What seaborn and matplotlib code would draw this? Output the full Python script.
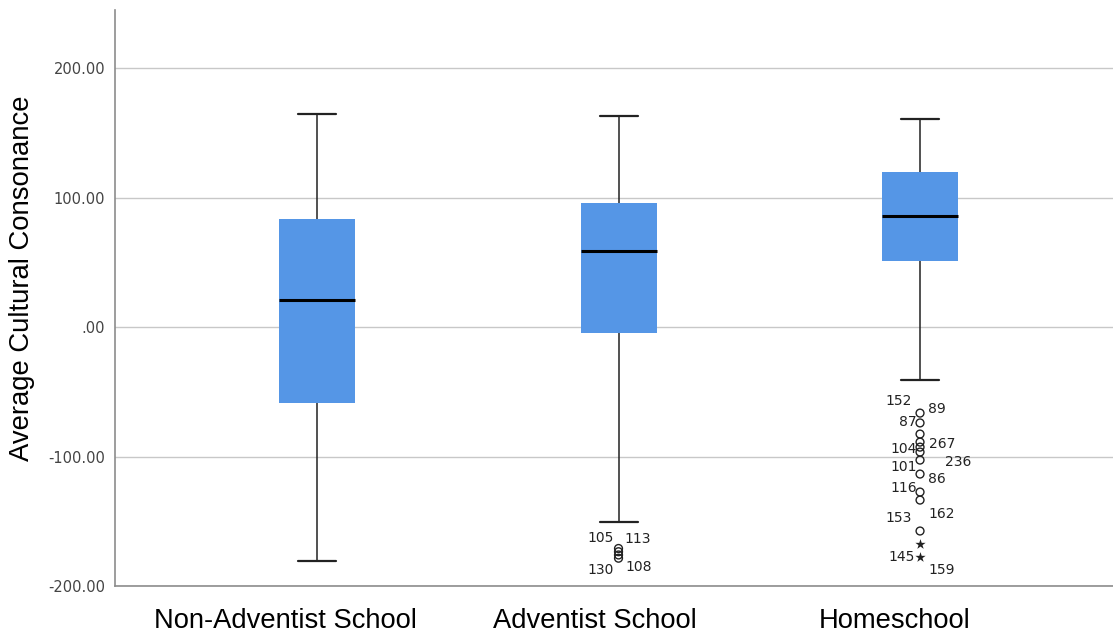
import numpy as np
import pandas as pd
import matplotlib
matplotlib.use('Agg')
import matplotlib.pyplot as plt
import matplotlib.transforms as mtransforms
import seaborn as sns

# Box summary values
groups = ['Non-Adventist School', 'Adventist School', 'Homeschool']
whisker_low = [-180.7, -150.6, -40.9]
q1 = [-58.7, -4.6, 51.0]
median = [20.8, 58.7, 85.7]
q3 = [83.4, 95.8, 119.7]
whisker_high = [164.5, 163.0, 160.6]

# Outliers (case ids as printed on the chart)
adv_out = [-171.0, -173.5, -176.0, -178.5]
adv_ids = ['105', '113', '130', '108']
home_out = [-66.4, -74.0, -82.6, -88.8, -92.7, -96.5, -102.7, -113.5, -127.4, -133.6, -157.5]
home_extreme = [-167.6, -177.6]
home_ids = ['152', '89', '87', '104', '267', '236', '101', '86', '116', '153', '162', '145', '159']

yticks = [-200, -100, 0, 100, 200]
ytick_labels = ['-200.00', '-100.00', '.00', '100.00', '200.00']

# label layout (y in data units, x offset in pixels)
adv_lab_y = [-163.0, -163.5, -188.0, -185.0]
adv_lab_dx = [-5, 6, -5, 7]
home_lab_y = [-57.1, -63.3, -73.4, -94.2, -90.3, -104.2, -108.1, -117.4, -124.3, -147.5, -144.4, -177.6, -187.6]
home_lab_dx = [-8, 8, -3, -3, 9, 25, -3, 8, -3, -8, 8, -5, 8]
xlabel_shift_px = [-32, -24, -25]

BLUE = '#5596e6'

# 5-number frame per group so that whis=(0, 100) reproduces the box
rows = []
for g, a, b, c, d, e in zip(groups, whisker_low, q1, median, q3, whisker_high):
    for v in (a, b, c, d, e):
        rows.append({'group': g, 'value': v})
df = pd.DataFrame(rows)

sns.set_style('white')
plt.rcParams['font.family'] = ['Liberation Sans', 'DejaVu Sans']

fig = plt.figure(figsize=(11.13, 6.33), dpi=100)
ax = fig.add_axes([0.1033, 0.0742, 0.8967, 0.9100])

sns.boxplot(data=df, x='group', y='value', order=groups, whis=(0, 100),
            width=0.252, color=BLUE, saturation=1, showfliers=False,
            linecolor='black', ax=ax,
            boxprops=dict(edgecolor=BLUE, linewidth=0),
            medianprops=dict(color='black', linewidth=2.2),
            whiskerprops=dict(color='#222222', linewidth=1.1),
            capprops=dict(color='#222222', linewidth=1.6))

# outliers
ax.scatter([1] * len(adv_out), adv_out, s=32, facecolors='none', edgecolors='#222222', linewidths=1, zorder=5)
ax.scatter([2] * len(home_out), home_out, s=32, facecolors='none', edgecolors='#222222', linewidths=1, zorder=5)
ax.scatter([2] * len(home_extreme), home_extreme, s=60, marker='*', color='#222222', linewidths=0, zorder=5)

for lab, y, dx in zip(adv_ids, adv_lab_y, adv_lab_dx):
    ax.annotate(lab, xy=(1, y), xytext=(dx, 0), textcoords='offset pixels',
                ha='right' if dx < 0 else 'left', va='center', fontsize=10,
                family='DejaVu Sans', color='#222222')
for lab, y, dx in zip(home_ids, home_lab_y, home_lab_dx):
    ax.annotate(lab, xy=(2, y), xytext=(dx, 0), textcoords='offset pixels',
                ha='right' if dx < 0 else 'left', va='center', fontsize=10,
                family='DejaVu Sans', color='#222222')

ax.set_xlim(-0.67, 2.64)
ax.set_ylim(-200, 245)
ax.set_yticks(yticks)
ax.set_yticklabels(ytick_labels, family='DejaVu Sans', fontsize=10.5, color='#444444')
ax.yaxis.grid(True, color='#c8c8c8', linewidth=1)
ax.set_axisbelow(True)
ax.tick_params(axis='y', length=0, pad=7)
ax.tick_params(axis='x', length=0, pad=16, labelsize=19.7, labelcolor='black')

# SPSS draws the category labels slightly left of the box centres
for lbl, sh in zip(ax.get_xticklabels(), xlabel_shift_px):
    lbl.set_transform(lbl.get_transform() + mtransforms.ScaledTranslation(sh / 100, 0, fig.dpi_scale_trans))

sns.despine(ax=ax)
for s in ('left', 'bottom'):
    ax.spines[s].set_color('#8c8c8c')
    ax.spines[s].set_linewidth(1.2)

ax.set_xlabel('')
ax.set_ylabel('Average Cultural Consonance', fontsize=19.8, color='black')
ax.yaxis.set_label_coords(-0.080, 0.534)

fig.savefig('out.png', dpi=100)
